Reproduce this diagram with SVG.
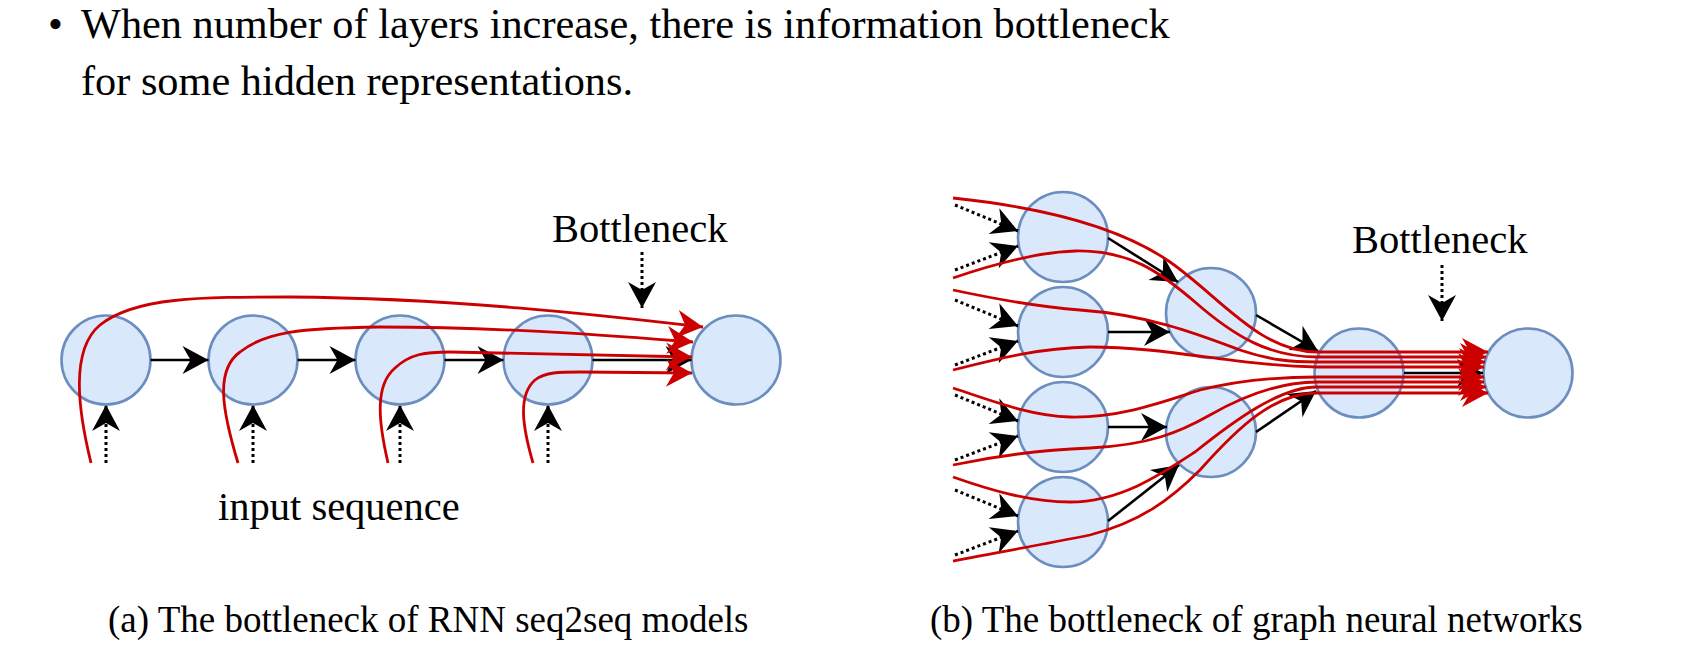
<svg xmlns="http://www.w3.org/2000/svg" width="1692" height="649" viewBox="0 0 1692 649">
<style>
  text { font-family: "Liberation Serif", "Times New Roman", serif; fill: #000; }
  .node { fill: #dae8fc; stroke: #6c8ebf; stroke-width: 2.6; }
  .blk { fill: none; stroke: #000; stroke-width: 2.6; marker-end: url(#ab); }
  .dot { fill: none; stroke: #000; stroke-width: 3; stroke-dasharray: 3 3; marker-end: url(#ab); }
  .red { fill: none; stroke: #cc0000; stroke-width: 2.8; marker-end: url(#ar); }
</style>
<defs>
  <marker id="ab" viewBox="-28 -15 30 30" refX="0" refY="0" markerWidth="30" markerHeight="30" markerUnits="userSpaceOnUse" orient="auto">
    <path d="M0,0 L-26,-14 L-18,0 L-26,14 Z" fill="#000"/>
  </marker>
  <marker id="ar" viewBox="-28 -15 30 30" refX="0" refY="0" markerWidth="30" markerHeight="30" markerUnits="userSpaceOnUse" orient="auto">
    <path d="M0,0 L-26,-14 L-18,0 L-26,14 Z" fill="#cc0000"/>
  </marker>
</defs>
<rect width="1692" height="649" fill="#fff"/>

<g id="title">
  <text x="48" y="38" font-size="42.3">•</text>
  <text x="81" y="38" font-size="42.3">When number of layers increase, there is information bottleneck</text>
  <text x="81" y="95" font-size="42.3">for some hidden representations.</text>
</g>

<!-- (a) RNN seq2seq -->
<g id="rnn-h1"><circle class="node" cx="106" cy="360" r="44.5"/></g>
<g id="rnn-h2"><circle class="node" cx="253" cy="360" r="44.5"/></g>
<g id="rnn-h3"><circle class="node" cx="400" cy="360" r="44.5"/></g>
<g id="rnn-h4"><circle class="node" cx="548" cy="360" r="44.5"/></g>
<g id="rnn-out"><circle class="node" cx="736" cy="360" r="44.5"/></g>
<g id="label-bottleneck-a"><text x="552" y="242" font-size="40.5">Bottleneck</text></g>
<g id="label-input"><text x="218" y="520" font-size="40.5">input sequence</text></g>
<g id="caption-a"><text x="108" y="632" font-size="37">(a) The bottleneck of RNN seq2seq models</text></g>

<!-- (b) GNN -->
<g id="gnn-a"><circle class="node" cx="1063" cy="237" r="45"/></g>
<g id="gnn-b"><circle class="node" cx="1063" cy="332" r="45"/></g>
<g id="gnn-c"><circle class="node" cx="1063" cy="427" r="45"/></g>
<g id="gnn-d"><circle class="node" cx="1063" cy="522" r="45"/></g>
<g id="gnn-m1"><circle class="node" cx="1211" cy="313" r="45"/></g>
<g id="gnn-m2"><circle class="node" cx="1211" cy="432" r="45"/></g>
<g id="gnn-n"><circle class="node" cx="1359" cy="373" r="44.5"/></g>
<g id="gnn-f"><circle class="node" cx="1528" cy="373" r="44.5"/></g>
<g id="label-bottleneck-b"><text x="1352" y="253" font-size="40.5">Bottleneck</text></g>
<g id="caption-b"><text x="930" y="632" font-size="37">(b) The bottleneck of graph neural networks</text></g>

<g id="connectors">
  <!-- (a) black -->
  <line class="blk" x1="150.5" y1="360" x2="208.5" y2="360"/>
  <line class="blk" x1="297.5" y1="360" x2="355.5" y2="360"/>
  <line class="blk" x1="444.5" y1="360" x2="503.5" y2="360"/>
  <line class="blk" x1="592.5" y1="360" x2="691.5" y2="360"/>
  <line class="dot" x1="106" y1="463" x2="106" y2="405"/>
  <line class="dot" x1="253" y1="463" x2="253" y2="405"/>
  <line class="dot" x1="400" y1="463" x2="400" y2="405"/>
  <line class="dot" x1="548" y1="463" x2="548" y2="405"/>
  <line class="dot" x1="642" y1="252" x2="642" y2="308"/>
  <!-- (a) red -->
  <path class="red" d="M91,463 C78,410 70,350 100,325 C135,297 200,297 290,297 C450,298 600,315 703,327"/>
  <path class="red" d="M238,463 C222,410 215,370 240,352 C265,332 300,328 380,327 C500,327 600,335 693,342"/>
  <path class="red" d="M388,463 C378,420 375,385 395,368 C410,354 425,352 450,352 L692,357"/>
  <path class="red" d="M533,463 C522,425 518,395 535,380 C545,372 560,372 580,372 L692,373"/>

  <!-- (b) black -->
  <line class="dot" x1="955" y1="205" x2="1018" y2="231"/>
  <line class="dot" x1="955" y1="270" x2="1018" y2="246"/>
  <line class="dot" x1="955" y1="300" x2="1018" y2="326"/>
  <line class="dot" x1="955" y1="365" x2="1018" y2="341"/>
  <line class="dot" x1="955" y1="395" x2="1018" y2="421"/>
  <line class="dot" x1="955" y1="460" x2="1018" y2="436"/>
  <line class="dot" x1="955" y1="490" x2="1018" y2="516"/>
  <line class="dot" x1="955" y1="555" x2="1018" y2="531"/>
  <line class="blk" x1="1108" y1="238" x2="1178" y2="282"/>
  <line class="blk" x1="1108" y1="332" x2="1170" y2="332"/>
  <line class="blk" x1="1108" y1="427" x2="1167" y2="427"/>
  <line class="blk" x1="1108" y1="521" x2="1179" y2="465"/>
  <line class="blk" x1="1256" y1="315" x2="1318" y2="351"/>
  <line class="blk" x1="1256" y1="432" x2="1316" y2="391"/>
  <line class="blk" x1="1404" y1="373" x2="1483" y2="373"/>
  <line class="dot" x1="1442" y1="265" x2="1442" y2="321"/>
  <!-- (b) red -->
  <path class="red" d="M953,198 C1020,205 1110,220 1170,262 C1220,297 1260,352 1317,352 L1488,352"/>
  <path class="red" d="M953,278 C1000,262 1040,252 1075,251 C1130,250 1160,272 1195,302 C1235,337 1270,357 1317,357 L1486,357"/>
  <path class="red" d="M953,290 C1000,300 1040,307 1080,310 C1150,315 1200,335 1240,350 C1270,360 1290,362 1317,362 L1485,362"/>
  <path class="red" d="M953,370 C1000,358 1040,348 1090,347 C1170,347 1230,365 1317,367 L1484,367"/>
  <path class="red" d="M953,388 C990,400 1030,416 1070,417 C1120,418 1160,403 1200,390 C1240,380 1280,377 1317,377 L1484,377"/>
  <path class="red" d="M953,465 C1000,455 1040,450 1090,448 C1150,445 1180,432 1210,415 C1245,395 1280,382 1317,382 L1484,382"/>
  <path class="red" d="M953,477 C990,490 1030,502 1070,502 C1120,502 1160,475 1195,452 C1235,420 1280,387 1317,387 L1486,387"/>
  <path class="red" d="M953,561 C1000,552 1040,545 1090,535 C1140,522 1170,500 1200,470 C1240,425 1275,393 1317,393 L1488,393"/>
</g>
</svg>
